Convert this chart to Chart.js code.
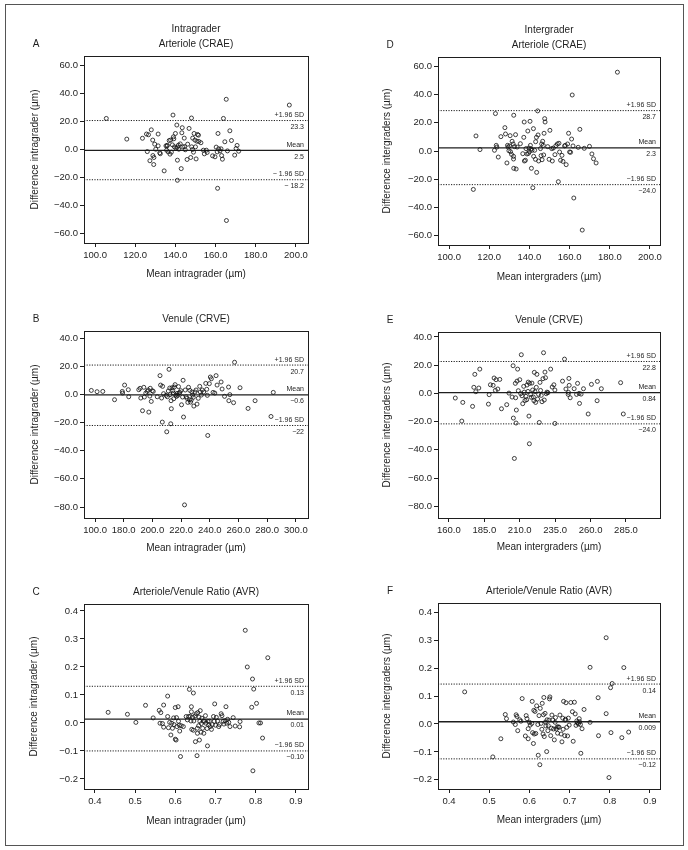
<!DOCTYPE html>
<html>
<head>
<meta charset="utf-8">
<script src="https://cdn.jsdelivr.net/npm/chart.js@4.4.0/dist/chart.umd.min.js"></script>
<style>
    html, body { margin: 0; padding: 0; background: #fff; }
    #page { position: relative; width: 688px; height: 850px; }
    #frame { position: absolute; left: 5px; top: 4px; width: 677px; height: 840px; border: 1px solid #555; }
    canvas { position: absolute; }
</style>
</head>
<body>
<div id="page">
    <div id="frame"></div>
    <canvas id="cA"></canvas>
    <canvas id="cD"></canvas>
    <canvas id="cB"></canvas>
    <canvas id="cE"></canvas>
    <canvas id="cC"></canvas>
    <canvas id="cF"></canvas>
</div>
<script>
// ---- Data: [mean, difference] pairs ----

// A: intragrader, arteriole (CRAE)
const intraCRAE = [
    [105.6,22.1],[115.8,7.4],[123.6,8],[125.6,11],[126.6,10.5],[126,-1.5],[127.3,-8],[128,14],
    [128.7,6.7],[128.8,-4.3],[129.3,-5.7],[129.2,-10.7],[129.7,3.8],[130.2,0.2],[131.4,11],[131.4,2.6],
    [132.2,-2.4],[132.5,-3],[134.4,-15.2],[135.3,2.6],[135.6,-0.5],[135.8,2.6],[136,3],[136.4,-1.7],
    [136.9,6.4],[137.3,-3.3],[137.6,6.7],[138,-1.9],[138.5,3.3],[138.8,24.5],[139,9],[139.2,7.6],
    [139.5,1.9],[140,11.4],[140.3,1],[140.7,17.4],[141,1.7],[141,-7.6],[141,-21.9],[141.5,3.1],
    [141.7,0.2],[142.4,4],[142.9,-13.6],[143.2,11.9],[143.4,15.5],[143.7,1.9],[144.4,8.1],[144.6,2.1],
    [144.9,-0.2],[145.8,-7.1],[146.1,3.8],[146.8,15],[147.6,-5.7],[148,22.4],[148.1,1.9],[148.5,0],
    [148.6,8.1],[149,-1.9],[149.3,11.4],[149.7,6.7],[150,1.9],[150.3,-6.7],[150.7,5.9],[151,10.7],
    [151.5,10.2],[151.7,5.7],[152.7,4.8],[153.9,-0.5],[154.4,-3.1],[155.4,-0.5],[155.8,-2.1],[158.5,-4.5],
    [159.7,-5.2],[160.3,1.7],[160.8,-1.7],[161.2,11.4],[161,-27.6],[161.5,0.5],[162.2,-1],[162.7,0.5],
    [163,-4.3],[163.4,-6.9],[163.9,22.1],[164.6,5.5],[165.3,35.7],[165.4,-50.5],[165.9,-1],[167.1,13.3],
    [167.9,6.4],[169.5,-4],[170.2,0.7],[170.7,2.9],[171.5,-1.2],[196.7,31.6]
];

// D: intergrader, arteriole (CRAE)
const interCRAE = [
    [112.1,-27.3],[113.4,10.7],[115.4,1],[122.6,0.5],[123.1,26.6],[123.5,4],[123.8,2.8],[124.5,-4.3],
    [125.8,10.2],[127.8,16.6],[128.1,12.1],[128.8,-8.5],[129.1,4],[129.4,2.8],[129.8,0.2],[130.1,3.6],
    [130.4,10.9],[130.6,-0.5],[131.1,-2.4],[131.4,6.9],[131.9,5],[132.1,-3.8],[132.1,-5.7],[132.2,25.4],
    [132.2,-12.3],[132.6,3.1],[133.1,11.6],[133.4,-12.8],[133.9,2.8],[135.5,5.2],[136.7,-1.9],[137.2,9.7],
    [137.4,20.6],[137.5,-7.1],[138,-6.6],[138.3,1.7],[138.8,-2.1],[139.2,14.2],[139.5,-1.7],[139.8,2.1],
    [140,-0.5],[140.3,21.1],[140.5,4],[140.8,1.4],[141,-12.3],[141.3,0.5],[141.7,-26.1],[142,15.9],
    [142.1,-3.8],[142.6,0.5],[143,-5.9],[143.1,6.6],[143.5,9.7],[143.6,-15.2],[144.1,28.5],[144.3,11.4],
    [144.6,-7.1],[145.5,1.7],[145.8,-3.3],[146.1,5],[146.3,-6.2],[146.6,6.9],[146.9,4],[147.1,-2.8],
    [147.3,12.6],[147.6,23],[147.8,20.6],[149.1,3.1],[149.8,-5.9],[150.2,14.7],[151.1,1.7],[151.4,-7.1],
    [151.9,2.1],[152.7,-2.6],[153.2,3.8],[153.9,5],[154.4,-21.8],[154.7,5.5],[155,-0.7],[155.5,-6.6],
    [156.2,-3.1],[156.7,-7.4],[157.5,3.6],[157.9,4],[158.3,-9.7],[159,5],[159.5,12.6],[160,-0.7],
    [160.5,-0.9],[161,8.5],[161.3,39.8],[161.7,3.6],[162.1,-33.4],[164.3,2.6],[165.1,15.4],[166.3,-56.2],
    [167.3,1.9],[169.9,3.3],[171.1,-2.1],[171.9,-5.5],[173.2,-8.5],[183.8,56]
];

// B: intragrader, venule (CRVE)
const intraCRVE = [
    [157.4,2.8],[161.4,1.9],[165.4,2.1],[173.6,-3.8],[179,2.1],[179.2,0.9],[180.6,6.6],[183.2,3.3],
    [183.5,-1.7],[190.5,3.3],[191.4,4.3],[191.9,-2.6],[193.1,-11.6],[194,5],[194.4,-1.9],[195.4,0.9],
    [196.4,2.1],[197,3.1],[197.5,-12.6],[198.2,-1.2],[198.5,4.3],[199.2,-5],[199.9,2.6],[200.6,2.1],
    [203.4,-1.7],[205.3,13.3],[205.7,6.6],[206.4,-2.6],[206.9,-19.7],[207.1,5.7],[207.8,0.5],[209.5,-0.7],
    [210,-26.6],[210.4,-1.7],[211.1,2.4],[211.6,17.8],[212.1,4.5],[212.3,-0.2],[212.8,-20.9],[213,-4.5],
    [213.2,-10.2],[213.7,4.7],[214.2,2.6],[214.6,0.9],[214.9,-3.1],[215.3,5.2],[215.8,6.9],[216.3,-0.5],
    [216.8,-1.4],[217.2,0.7],[217.7,-0.7],[218.2,5.5],[218.6,0.9],[219.1,1.4],[219.8,2.6],[220.3,-7.4],
    [221,-1.9],[221.4,10],[221.7,-16.1],[222.4,-78.5],[222.9,3.1],[223.6,-1.7],[224,-2.8],[224.7,-5.7],
    [225.2,5],[225.7,-3.8],[226.1,2.8],[226.6,-5.5],[227.1,-4],[227.5,1.7],[228,-0.5],[228.5,-2.1],
    [228.9,-8.3],[229.7,1.7],[230.4,3.1],[231.1,-6.9],[232,-2.8],[233,5.7],[233.4,1.7],[234.1,-0.5],
    [234.8,3.1],[235.8,1.7],[237.2,7.8],[237.9,3.6],[238.3,-0.7],[238.6,-29.2],[239.7,7.6],[240.4,12.3],
    [241.1,11.1],[242.3,1.4],[243.5,0.9],[244.4,13.3],[245.1,6.6],[247.9,8.8],[248.6,3.8],[250.3,-1.4],
    [253.1,5.2],[253.3,-4.5],[254,-0.2],[256.6,-5.9],[257.3,22.8],[261.1,4.7],[266.7,-10],[271.6,-4.5],
    [282.7,-15.7],[284.3,1.4]
];

// E: intergrader, venule (CRVE)
const interCRVE = [
    [164.5,-3.3],[169.8,-6.4],[169.1,-19.6],[176.7,-9.2],[177.6,4.3],[178.3,13.5],[179,1.2],[181.1,3.8],
    [181.8,17.2],[187.9,-7.6],[188.4,-0.9],[189.3,6.1],[191.2,5.7],[191.9,10.9],[192.8,2.1],[193.3,9.7],
    [194.5,3.1],[195.9,9.9],[197.1,-10.9],[200.8,-8],[202.4,0.2],[204.6,-2.6],[205.3,19.6],[205.5,-17.5],
    [206.2,-46.1],[206.9,7.1],[207.1,-3.1],[207.6,-11.8],[207.4,-21],[208.1,8.7],[208.5,17.2],[209,1.9],
    [210,9.7],[210.7,-0.2],[211.1,27.4],[211.6,-1.7],[212.1,-7.3],[212.8,5],[213.2,0.9],[213.7,-5],
    [214.4,-2.1],[214.9,-4.5],[215.1,5.9],[215.8,1.4],[216,8],[216.5,-16.1],[216.8,-35.7],[217,7.1],
    [217.7,-0.7],[218.2,-2.8],[218.6,7.3],[219.1,2.4],[219.6,-2.6],[220,-5.2],[220.3,14.9],[220.7,1.2],
    [221.2,-6.4],[221.7,4.3],[222.1,13.5],[222.6,-4],[223.3,-0.7],[223.8,-20.6],[224.3,7.8],[224.7,2.1],
    [225.2,-1.4],[225.7,-5.9],[226.4,10.4],[226.8,28.8],[227.3,-4.7],[227.8,15.1],[228.2,11.1],[228.7,-0.2],
    [229.2,0.9],[229.9,0.5],[231.8,17.2],[232.9,4.5],[234.1,6.1],[234.8,2.4],[234.8,-21.3],[240.2,8.7],
    [241.6,24.3],[242.6,3.1],[244.2,-0.7],[244.4,0.7],[244.7,10.6],[244.9,5.7],[245.6,-3.1],[248.4,3.3],
    [250.1,-0.7],[250.8,7.1],[251.9,0],[252.2,-7.1],[253.3,-0.5],[255,3.3],[258.3,-14.6],[260.6,6.4],
    [264.6,-5.2],[264.8,8.5],[267.6,3.3],[281.2,7.6],[283.1,-14.6]
];

// C: intragrader, arteriole/venule ratio (AVR)
const intraAVR = [
    [0.433,0.038],[0.481,0.031],[0.502,0.002],[0.526,0.063],[0.545,0.018],[0.560,0.045],[0.564,0.037],[0.562,-0.001],
    [0.568,-0.002],[0.571,0.064],[0.571,-0.015],[0.581,0.023],[0.581,0.096],[0.583,-0.017],[0.586,0.002],[0.589,-0.043],
    [0.591,-0.001],[0.593,-0.019],[0.596,0.018],[0.597,-0.006],[0.600,0.055],[0.600,-0.058],[0.602,-0.061],[0.603,0.019],
    [0.604,-0.013],[0.607,0.058],[0.608,0.006],[0.610,-0.008],[0.611,-0.029],[0.613,-0.120],[0.615,-0.01],[0.620,-0.013],
    [0.627,0.023],[0.630,0.011],[0.633,0.023],[0.635,0.120],[0.637,0.024],[0.639,0.007],[0.640,0.040],[0.640,0.058],
    [0.641,-0.023],[0.643,0.02],[0.645,0.107],[0.645,-0.026],[0.646,0.007],[0.649,0.025],[0.650,-0.067],[0.652,0.033],
    [0.654,-0.117],[0.655,-0.019],[0.655,-0.037],[0.656,0.037],[0.658,-0.01],[0.659,0.021],[0.660,-0.061],[0.661,0.006],
    [0.662,0.044],[0.664,-0.033],[0.665,-0.002],[0.666,0.017],[0.668,-0.019],[0.670,0.006],[0.671,-0.037],[0.673,0.006],
    [0.675,0.026],[0.676,-0.001],[0.679,-0.02],[0.680,-0.082],[0.681,0.006],[0.683,-0.007],[0.685,0.006],[0.687,-0.013],
    [0.690,-0.023],[0.692,-0.006],[0.695,0.023],[0.697,0.006],[0.698,0.068],[0.700,-0.008],[0.702,0.02],[0.705,0.007],
    [0.708,-0.013],[0.710,-0.006],[0.714,0.033],[0.716,0.026],[0.719,0.006],[0.721,-0.004],[0.724,0.008],[0.726,0.058],
    [0.728,-0.001],[0.730,0.013],[0.733,0.002],[0.736,-0.013],[0.744,0.019],[0.749,-0.011],[0.760,-0.014],[0.761,0.005],
    [0.774,0.331],[0.779,0.200],[0.790,0.056],[0.792,0.157],[0.793,-0.171],[0.795,0.121],[0.802,0.070],[0.808,0.000],
    [0.812,0.000],[0.817,-0.054],[0.830,0.233]
];

// F: intergrader, arteriole/venule ratio (AVR)
const interAVR = [
    [0.439,0.115],[0.509,-0.118],[0.529,-0.053],[0.540,0.034],[0.543,0.019],[0.560,0.007],[0.565,-0.002],[0.567,0.033],
    [0.569,0.027],[0.571,-0.024],[0.576,0.015],[0.579,0.01],[0.582,0.091],[0.590,-0.043],[0.592,0.03],[0.594,0.019],
    [0.597,-0.053],[0.597,-0.017],[0.600,0.006],[0.602,-0.004],[0.606,0.002],[0.607,0.081],[0.608,-0.031],[0.610,-0.07],
    [0.611,0.049],[0.612,-0.036],[0.614,0.045],[0.616,-0.034],[0.618,0.065],[0.621,-0.002],[0.622,-0.112],[0.624,0.03],
    [0.626,-0.146],[0.627,0.056],[0.629,0.002],[0.631,-0.019],[0.632,0.074],[0.634,-0.036],[0.635,0.033],[0.636,0.095],
    [0.637,-0.045],[0.639,0.038],[0.640,0.007],[0.641,-0.007],[0.643,-0.099],[0.644,0.015],[0.646,-0.024],[0.647,-0.006],
    [0.649,0.014],[0.650,0.09],[0.651,0.097],[0.653,-0.042],[0.655,-0.015],[0.656,0.032],[0.658,0.014],[0.660,-0.018],
    [0.662,-0.057],[0.664,0.006],[0.665,0.023],[0.667,-0.018],[0.669,-0.011],[0.670,-0.033],[0.672,-0.01],[0.674,-0.012],
    [0.676,0.032],[0.679,-0.036],[0.681,-0.064],[0.683,0.021],[0.684,-0.019],[0.685,0.081],[0.688,-0.042],[0.689,0.014],
    [0.690,0.017],[0.691,0.076],[0.693,-0.012],[0.695,-0.043],[0.697,0.021],[0.699,-0.004],[0.703,0.077],[0.707,0.044],
    [0.709,-0.062],[0.712,0.078],[0.714,0.036],[0.716,-0.005],[0.718,0.011],[0.719,0.004],[0.722,0],[0.724,0.019],
    [0.725,0.008],[0.727,-0.002],[0.728,-0.105],[0.731,-0.017],[0.736,0.052],[0.751,0.203],[0.751,0.006],[0.771,0.094],
    [0.772,-0.042],[0.791,0.037],[0.791,0.309],[0.798,-0.192],[0.802,0.13],[0.803,-0.031],[0.806,0.145],[0.830,-0.049],
    [0.835,0.202],[0.847,-0.029]
];

// Limits of agreement as drawn: [+1.96 SD, mean, -1.96 SD]
const linesA = [20.6, -0.6, -21.5];
const linesD = [28.7, 2.2, -23.9];
const linesB = [20.8, -0.3, -22.1];
const linesE = [22.6, 0.5, -21.6];
const linesC = [0.131, 0.014, -0.100];
const linesF = [0.143, 0.008, -0.125];

// Labels printed next to the lines
const labelsA = ['+1.96 SD', '23.3', 'Mean', '2.5', '\u2212 1.96 SD', '\u2212 18.2'];
const labelsD = ['+1.96 SD', '28.7', 'Mean', '2.3', '\u22121.96 SD', '\u221224.0'];
const labelsB = ['+1.96 SD', '20.7', 'Mean', '\u22120.6', '\u22121.96 SD', '\u221222'];
const labelsE = ['+1.96 SD', '22.8', 'Mean', '0.84', '\u22121.96 SD', '\u221224.0'];
const labelsC = ['+1.96 SD', '0.13', 'Mean', '0.01', '\u22121.96 SD', '\u22120.10'];
const labelsF = ['+1.96 SD', '0.14', 'Mean', '0.009', '\u22121.96 SD', '\u22120.12'];

// Tick values
const xTicksCRAE = [100, 120, 140, 160, 180, 200];
const yTicksCRAE = [-60, -40, -20, 0, 20, 40, 60];
const xTicksIntraCRVE = [160, 180, 200, 220, 240, 260, 280, 300];
const xTickLabelsIntraCRVE = ['100.0', '180.0', '200.0', '220.0', '240.0', '260.0', '280.0', '300.0'];
const xTicksInterCRVE = [160, 185, 210, 235, 260, 285];
const yTicksCRVE = [-80, -60, -40, -20, 0, 20, 40];
const xTicksAVR = [0.4, 0.5, 0.6, 0.7, 0.8, 0.9];
const yTicksAVR = [-0.2, -0.1, 0, 0.1, 0.2, 0.3, 0.4];

// ---- Styling ----
const FONT = "'Liberation Sans', Arial, sans-serif";
const INK = '#1e1e1e';

const fmt = (dec) => (v) => v.toFixed(dec).replace('-', '\u2212');

// Panel text (letter, titles, line labels) and plot frame
const panelPlugin = {
    id: 'panelText',
    afterDraw(chart, args, opts) {
        const { ctx, chartArea: a, scales } = chart;
        ctx.save();
        // frame
        ctx.strokeStyle = INK;
        ctx.lineWidth = 1;
        ctx.strokeRect(Math.round(a.left) + 0.5, Math.round(a.top) + 0.5,
            Math.round(a.right - a.left), Math.round(a.bottom - a.top));

        ctx.fillStyle = INK;
        ctx.textBaseline = 'middle';
        // titles
        ctx.font = `10px ${FONT}`;
        ctx.textAlign = 'center';
        const cx = (a.left + a.right) / 2;
        const n = opts.titles.length;
        opts.titles.forEach((t, i) => {
            ctx.fillText(t, cx, a.top - 12 - (n - 1 - i) * 15);
        });
        ctx.fillText(opts.letter, a.left - 48, a.top - 12);

        // line labels
        ctx.font = `7px ${FONT}`;
        ctx.textAlign = 'right';
        opts.lines.forEach((v, i) => {
            const y = scales.y.getPixelForValue(v);
            ctx.fillText(opts.labels[i * 2], a.right - 4, y - 5.5);
            ctx.fillText(opts.labels[i * 2 + 1], a.right - 4, y + 6.5);
        });
        ctx.restore();
    }
};

const panels = [
    { letter: 'A', titles: ['Intragrader', 'Arteriole (CRAE)'], points: intraCRAE, lines: linesA, labels: labelsA,
      box: { x: 8, y: 6, w: 336, h: 284 }, area: { l: 84, t: 56, r: 308, b: 243 },
      xMin: 94.5, xMax: 206, yMin: -66.5, yMax: 66.5, xTicks: xTicksCRAE, yTicks: yTicksCRAE, xDec: 1, yDec: 1,
      xTitle: 'Mean intragrader (\u00b5m)', yTitle: 'Difference intragrader (\u00b5m)', yTitleX: 35, xTitleY: 274 },
    { letter: 'D', titles: ['Intergrader', 'Arteriole (CRAE)'], points: interCRAE, lines: linesD, labels: labelsD,
      box: { x: 346, y: 6, w: 336, h: 284 }, area: { l: 438, t: 57, r: 660, b: 245 },
      xMin: 94.5, xMax: 205, yMin: -66.8, yMax: 66.8, xTicks: xTicksCRAE, yTicks: yTicksCRAE, xDec: 1, yDec: 1,
      xTitle: 'Mean intergraders (\u00b5m)', yTitle: 'Difference intergraders (\u00b5m)', yTitleX: 387, xTitleY: 277 },
    { letter: 'B', titles: ['Venule (CRVE)'], points: intraCRVE, lines: linesB, labels: labelsB,
      box: { x: 8, y: 292, w: 336, h: 268 }, area: { l: 84, t: 331, r: 308, b: 518 },
      xMin: 152.3, xMax: 308.5, yMin: -87.8, yMax: 45, xTicks: xTicksIntraCRVE, xTickLabels: xTickLabelsIntraCRVE,
      yTicks: yTicksCRVE, xDec: 1, yDec: 1,
      xTitle: 'Mean intragrader (\u00b5m)', yTitle: 'Difference intragrader (\u00b5m)', yTitleX: 35, xTitleY: 548 },
    { letter: 'E', titles: ['Venule (CRVE)'], points: interCRVE, lines: linesE, labels: labelsE,
      box: { x: 346, y: 292, w: 336, h: 268 }, area: { l: 438, t: 332, r: 660, b: 518 },
      xMin: 152.3, xMax: 309, yMin: -88.3, yMax: 43.5, xTicks: xTicksInterCRVE, yTicks: yTicksCRVE, xDec: 1, yDec: 1,
      xTitle: 'Mean intergraders (\u00b5m)', yTitle: 'Difference intergraders (\u00b5m)', yTitleX: 387, xTitleY: 547 },
    { letter: 'C', titles: ['Arteriole/Venule Ratio (AVR)'], points: intraAVR, lines: linesC, labels: labelsC,
      box: { x: 8, y: 562, w: 336, h: 280 }, area: { l: 84, t: 604, r: 308, b: 789 },
      xMin: 0.373, xMax: 0.93, yMin: -0.236, yMax: 0.425, xTicks: xTicksAVR, yTicks: yTicksAVR, xDec: 1, yDec: 1,
      xTitle: 'Mean intragrader (\u00b5m)', yTitle: 'Difference intragrader (\u00b5m)', yTitleX: 34, xTitleY: 821 },
    { letter: 'F', titles: ['Arteriole/Venule Ratio (AVR)'], points: interAVR, lines: linesF, labels: labelsF,
      box: { x: 346, y: 562, w: 336, h: 280 }, area: { l: 438, t: 603, r: 660, b: 789 },
      xMin: 0.3726, xMax: 0.925, yMin: -0.233, yMax: 0.4335, xTicks: xTicksAVR, yTicks: yTicksAVR, xDec: 1, yDec: 1,
      xTitle: 'Mean intergraders (\u00b5m)', yTitle: 'Difference intergraders (\u00b5m)', yTitleX: 387, xTitleY: 820 }
];

function makePanel(p) {
    const cv = document.getElementById('c' + p.letter);
    cv.width = p.box.w;
    cv.height = p.box.h;
    cv.style.left = p.box.x + 'px';
    cv.style.top = p.box.y + 'px';

    const yWidth = p.area.l - p.box.x;
    const xHeight = p.box.y + p.box.h - p.area.b;

    const refLine = (v, dashed) => ({
        data: [{ x: p.xMin, y: v }, { x: p.xMax, y: v }],
        showLine: true,
        borderColor: INK,
        borderWidth: dashed ? 1 : 1.3,
        borderDash: dashed ? [1.2, 1.4] : [],
        pointRadius: 0
    });

    const tickFont = { family: FONT, size: 9.5 };
    const titleFont = { family: FONT, size: 10 };

    new Chart(cv, {
        type: 'scatter',
        data: {
            datasets: [
                {
                    data: p.points.map(([x, y]) => ({ x, y })),
                    pointRadius: 2,
                    pointHoverRadius: 2,
                    pointBorderWidth: 0.8,
                    borderColor: '#111',
                    backgroundColor: 'rgba(0,0,0,0)'
                },
                refLine(p.lines[0], true),
                refLine(p.lines[1], false),
                refLine(p.lines[2], true)
            ]
        },
        options: {
            responsive: false,
            animation: false,
            devicePixelRatio: 1,
            layout: { padding: { left: 0, bottom: 0, top: p.area.t - p.box.y, right: p.box.x + p.box.w - p.area.r } },
            plugins: {
                legend: { display: false },
                tooltip: { enabled: false },
                panelText: { letter: p.letter, titles: p.titles, lines: p.lines, labels: p.labels }
            },
            scales: {
                x: {
                    type: 'linear',
                    min: p.xMin,
                    max: p.xMax,
                    afterBuildTicks: (s) => { s.ticks = p.xTicks.map(v => ({ value: v })); },
                    afterFit: (s) => { s.height = xHeight; },
                    ticks: {
                        autoSkip: false, maxRotation: 0, padding: 3, color: INK, font: tickFont,
                        callback: (v, i) => p.xTickLabels ? p.xTickLabels[i] : fmt(p.xDec)(v)
                    },
                    grid: { drawOnChartArea: false, tickLength: 4, color: INK },
                    border: { display: false },
                    title: { display: true, text: p.xTitle, color: INK, font: titleFont,
                             padding: { top: 0, bottom: p.box.y + p.box.h - p.xTitleY - 6 } }
                },
                y: {
                    type: 'linear',
                    min: p.yMin,
                    max: p.yMax,
                    afterBuildTicks: (s) => { s.ticks = p.yTicks.map(v => ({ value: v })); },
                    afterFit: (s) => { s.width = yWidth; },
                    ticks: { autoSkip: false, padding: 2, color: INK, font: tickFont, callback: (v) => fmt(p.yDec)(v) },
                    grid: { drawOnChartArea: false, tickLength: 4, color: INK },
                    border: { display: false },
                    title: { display: true, text: p.yTitle, color: INK, font: titleFont,
                             padding: { top: p.yTitleX - p.box.x - 6, bottom: 0 } }
                }
            }
        },
        plugins: [panelPlugin]
    });
}

panels.forEach(makePanel);
</script>
</body>
</html>
